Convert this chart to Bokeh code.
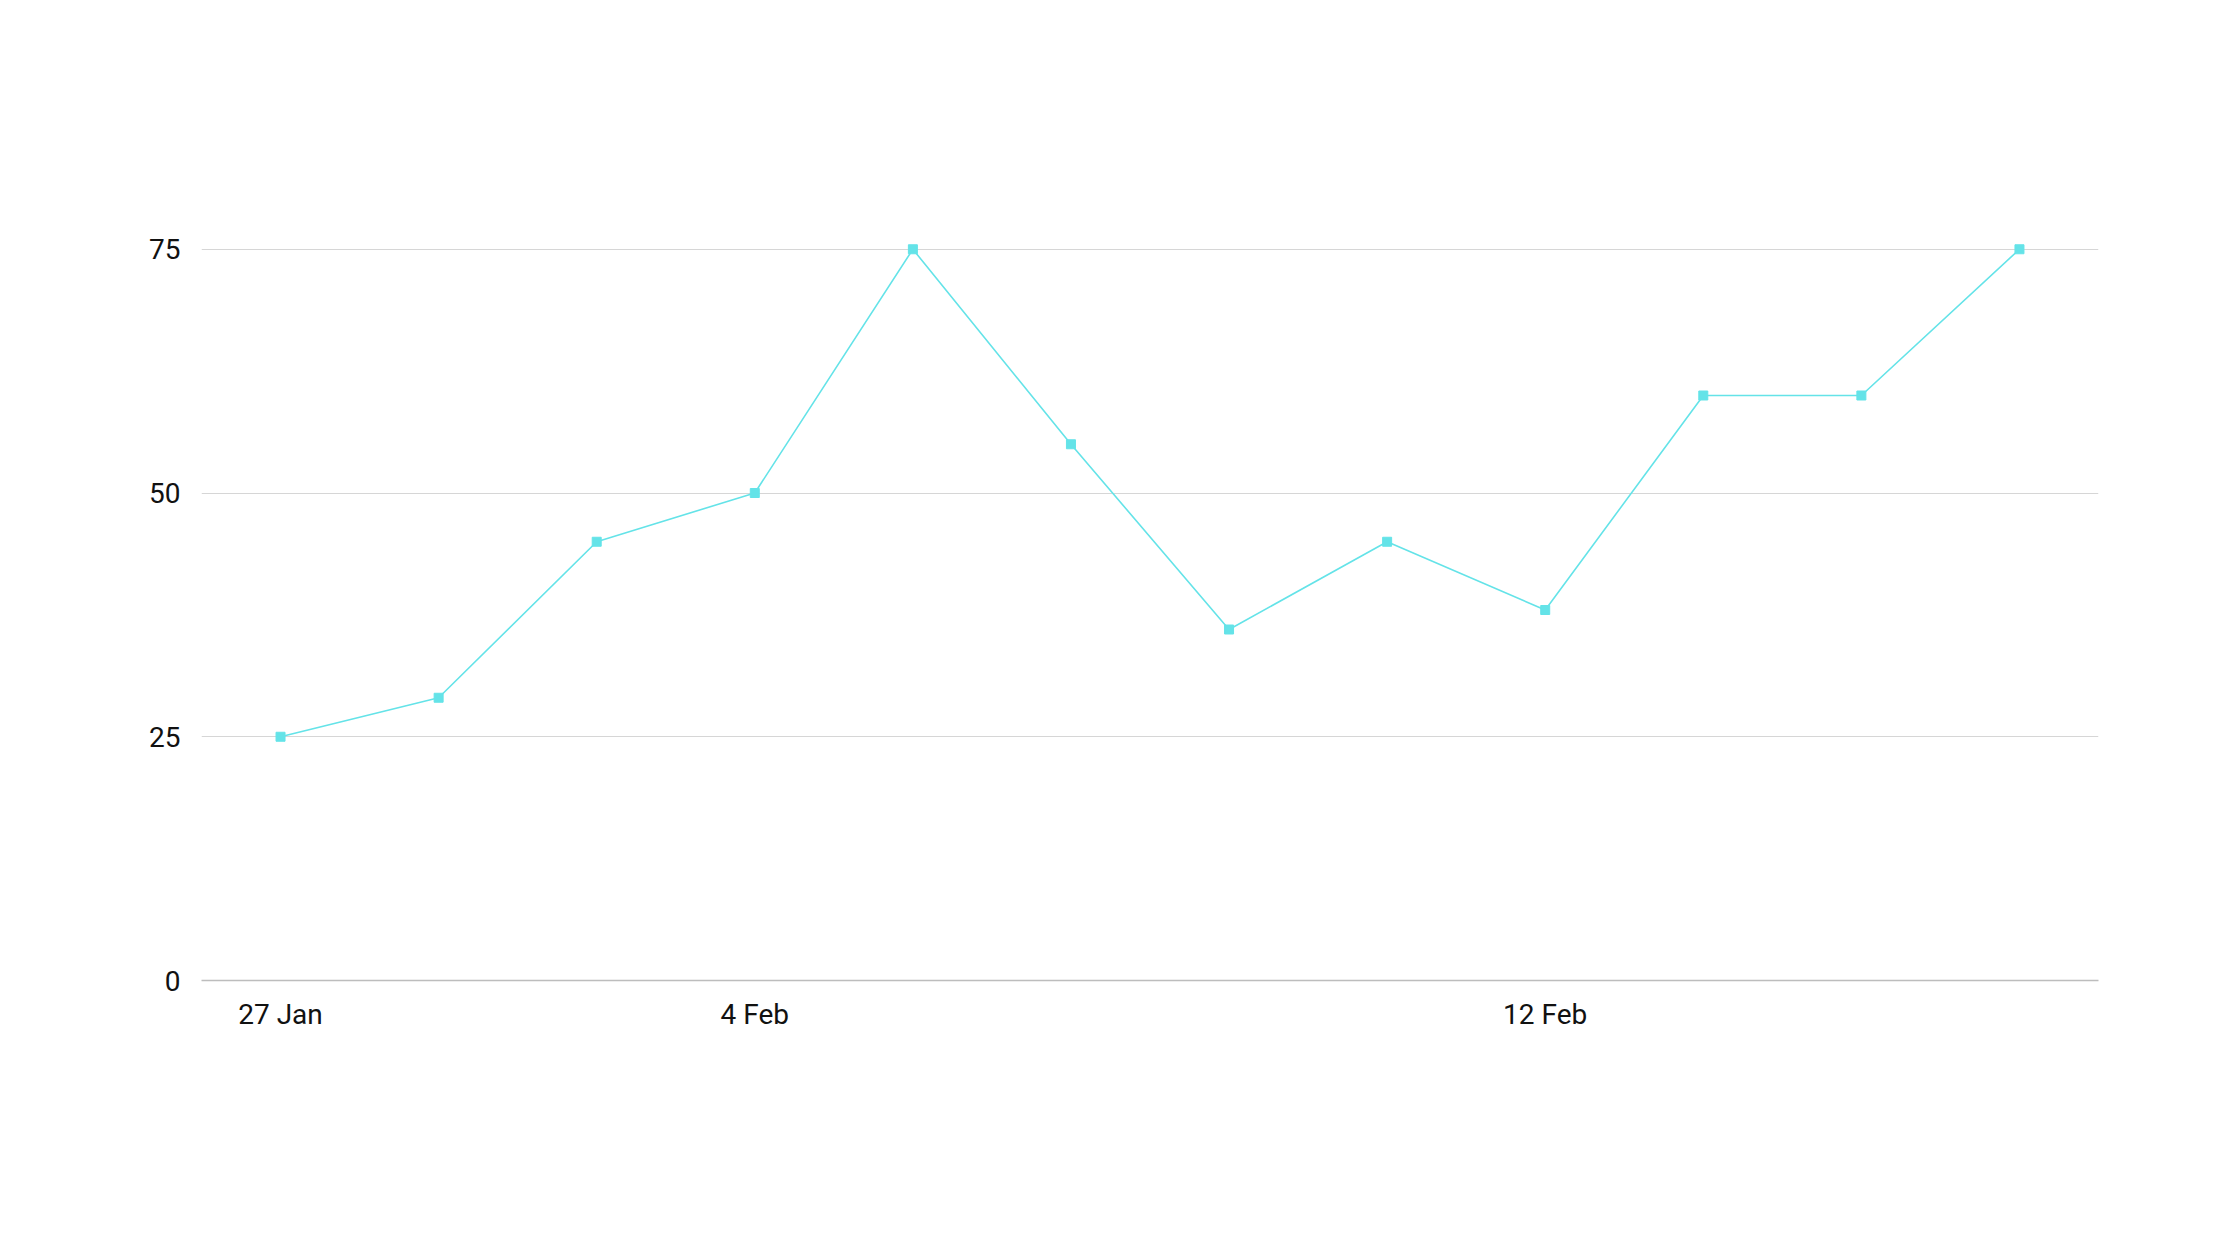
from bokeh.plotting import figure
from bokeh.models import Range1d, FixedTicker, ColumnDataSource
from bokeh.embed import file_html
from bokeh.resources import INLINE

# Data
x_index = list(range(12))
values = [25, 29, 45, 50, 75, 55, 36, 45, 38, 60, 60, 75]
x_tick_positions = [0, 3, 8]
x_tick_labels = ["27 Jan", "4 Feb", "12 Feb"]
y_ticks = [0, 25, 50, 75]

LINE_COLOR = "#64e3e8"
FONT = "Roboto"

source = ColumnDataSource(dict(x=x_index, y=values))

p = figure(width=2224, height=1244, output_backend="svg", toolbar_location=None,
           x_range=Range1d(-0.5, 11.5), y_range=Range1d(0, 80),
           min_border_left=201, min_border_right=126, min_border_top=200, min_border_bottom=264)
p.outline_line_color = None
p.background_fill_color = "white"
p.border_fill_color = "white"

p.line("x", "y", source=source, line_color=LINE_COLOR, line_width=1.6)
p.scatter("x", "y", source=source, marker="square", size=9, fill_color=LINE_COLOR, line_color=LINE_COLOR)

# x axis
xa = p.xaxis[0]
xa.ticker = FixedTicker(ticks=x_tick_positions)
xa.major_label_overrides = {t: l for t, l in zip(x_tick_positions, x_tick_labels)}
xa.axis_line_color = "#bdbdbd"
xa.axis_line_width = 1.5
xa.major_tick_line_color = None
xa.minor_tick_line_color = None
xa.major_tick_out = 0
xa.major_tick_in = 0
xa.major_label_standoff = 17
xa.major_label_text_font = FONT
xa.major_label_text_font_size = "28px"
xa.major_label_text_color = "#111111"

# y axis
ya = p.yaxis[0]
ya.ticker = FixedTicker(ticks=y_ticks)
ya.axis_line_color = None
ya.major_tick_line_color = None
ya.minor_tick_line_color = None
ya.major_tick_out = 0
ya.major_tick_in = 0
ya.major_label_standoff = 21
ya.major_label_text_font = FONT
ya.major_label_text_font_size = "28px"
ya.major_label_text_color = "#111111"

p.xgrid.grid_line_color = None
p.ygrid.ticker = FixedTicker(ticks=[25, 50, 75])
p.ygrid.grid_line_color = "#d6d6d6"
p.ygrid.grid_line_width = 1.2

open("out.html", "w").write(file_html(p, INLINE))
